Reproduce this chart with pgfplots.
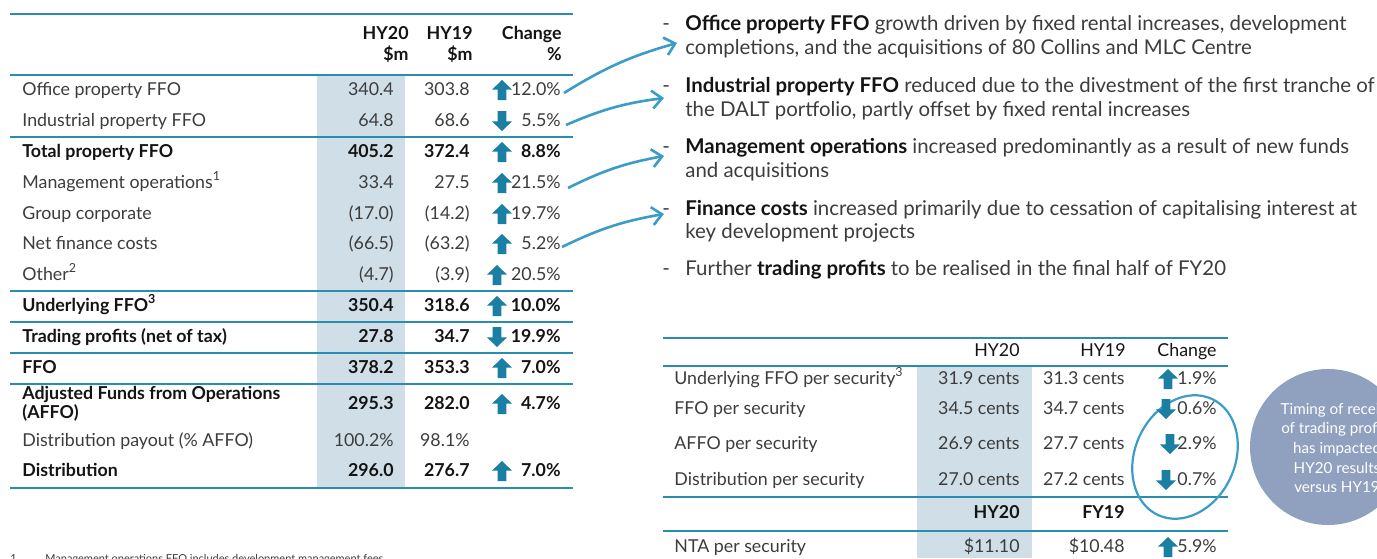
\documentclass[border=0pt]{standalone}
\usepackage{pgfplots}
\pgfplotsset{compat=1.18}
\usetikzlibrary{arrows.meta}
\usepackage{fontspec}
\setmainfont{Lato}
\definecolor{tline}{HTML}{2A8DB0}
\definecolor{shade}{HTML}{D0DEE7}
\definecolor{arr}{HTML}{1A7FA3}
\definecolor{txt}{HTML}{3C3C3C}
\definecolor{btxt}{HTML}{141414}
\definecolor{hand}{HTML}{3A9DC8}
\definecolor{circ}{HTML}{8FA1BF}
\pgfdeclareplotmark{uparr}{%
 \pgfpathmoveto{\pgfpoint{0pt}{5pt}}%
 \pgfpathlineto{\pgfpoint{5pt}{0.2pt}}%
 \pgfpathlineto{\pgfpoint{2.2pt}{0.2pt}}%
 \pgfpathlineto{\pgfpoint{2.2pt}{-5pt}}%
 \pgfpathlineto{\pgfpoint{-2.2pt}{-5pt}}%
 \pgfpathlineto{\pgfpoint{-2.2pt}{0.2pt}}%
 \pgfpathlineto{\pgfpoint{-5pt}{0.2pt}}%
 \pgfpathclose\pgfusepathqfill}
\pgfdeclareplotmark{dnarr}{%
 \pgfpathmoveto{\pgfpoint{0pt}{-5pt}}%
 \pgfpathlineto{\pgfpoint{5pt}{-0.2pt}}%
 \pgfpathlineto{\pgfpoint{2.2pt}{-0.2pt}}%
 \pgfpathlineto{\pgfpoint{2.2pt}{5pt}}%
 \pgfpathlineto{\pgfpoint{-2.2pt}{5pt}}%
 \pgfpathlineto{\pgfpoint{-2.2pt}{-0.2pt}}%
 \pgfpathlineto{\pgfpoint{-5pt}{-0.2pt}}%
 \pgfpathclose\pgfusepathqfill}
\newcommand{\tfs}{\fontsize{8.9}{10}\selectfont}
\newcommand{\bfs}{\fontsize{10.2}{12}\selectfont}
\begin{document}
\begin{tikzpicture}[
 L/.style={anchor=mid west, inner sep=0pt, font=\tfs, text=txt},
 R/.style={anchor=mid east, inner sep=0pt, font=\tfs, text=txt},
 LB/.style={anchor=mid west, inner sep=0pt, font=\tfs\bfseries, text=btxt},
 RB/.style={anchor=mid east, inner sep=0pt, font=\tfs\bfseries, text=btxt},
 B/.style={anchor=mid west, inner sep=0pt, font=\bfs, text=txt},
 tl/.style={draw=tline, line width=1.1pt},
 ha/.style={draw=hand, line width=1.3pt, -{Straight Barb[length=5pt, width=9pt, line width=1.3pt]}}]
\begin{axis}[scale only axis, width=688.5pt, height=279pt,
 xmin=0, xmax=1377, ymin=0, ymax=558, y dir=reverse, hide axis, clip=false]
% shaded columns
\addplot[fill=shade, draw=none] coordinates {(317,75) (405,75) (405,488) (317,488)} -- cycle;
\addplot[fill=shade, draw=none] coordinates {(917,366) (1032,366) (1032,558) (917,558)} -- cycle;
% circle
\fill[circ] (1328,447) circle [radius=39pt];
% left table rules
\draw[tl] (10,14) -- (573,14);
\draw[tl] (10,75) -- (573,75);
\draw[tl] (10,137) -- (573,137);
\draw[tl] (10,291) -- (573,291);
\draw[tl] (10,322) -- (573,322);
\draw[tl] (10,353) -- (573,353);
\draw[tl] (10,384) -- (573,384);
\draw[tl] (10,488) -- (573,488);
% right table rules
\draw[tl] (663,338) -- (1228,338);
\draw[tl] (663,366) -- (1228,366);
\draw[tl] (663,497) -- (1228,497);
\draw[tl] (663,531) -- (1228,531);
% headers left
\node[RB] at (409,34) {HY20};
\node[RB] at (409,55) {\$m};
\node[RB] at (473,34) {HY19};
\node[RB] at (473,55) {\$m};
\node[RB] at (562,34) {Change};
\node[RB] at (562,55) {\%};
% rows left
\node[L] at (22,90) {Office property FFO};
\node[R] at (394,90) {340.4};
\node[R] at (470,90) {303.8};
\node[R] at (561,90) {12.0\%};
\node[L] at (22,121) {Industrial property FFO};
\node[R] at (394,121) {64.8};
\node[R] at (470,121) {68.6};
\node[R] at (561,121) {5.5\%};
\node[LB] at (22,152) {Total property FFO};
\node[RB] at (394,152) {405.2};
\node[RB] at (470,152) {372.4};
\node[RB] at (561,152) {8.8\%};
\node[L] at (22,183) {Management operations\textsuperscript{1}};
\node[R] at (394,183) {33.4};
\node[R] at (470,183) {27.5};
\node[R] at (561,183) {21.5\%};
\node[L] at (22,214) {Group corporate};
\node[R] at (394,214) {(17.0)};
\node[R] at (470,214) {(14.2)};
\node[R] at (561,214) {19.7\%};
\node[L] at (22,244) {Net finance costs};
\node[R] at (394,244) {(66.5)};
\node[R] at (470,244) {(63.2)};
\node[R] at (561,244) {5.2\%};
\node[L] at (22,275) {Other\textsuperscript{2}};
\node[R] at (394,275) {(4.7)};
\node[R] at (470,275) {(3.9)};
\node[R] at (561,275) {20.5\%};
\node[LB] at (22,306) {Underlying FFO\textsuperscript{3}};
\node[RB] at (394,306) {350.4};
\node[RB] at (470,306) {318.6};
\node[RB] at (561,306) {10.0\%};
\node[LB] at (22,337) {Trading profits (net of tax)};
\node[RB] at (394,337) {27.8};
\node[RB] at (470,337) {34.7};
\node[RB] at (561,337) {19.9\%};
\node[LB] at (22,368) {FFO};
\node[RB] at (394,368) {378.2};
\node[RB] at (470,368) {353.3};
\node[RB] at (561,368) {7.0\%};
\node[LB] at (22,394) {Adjusted Funds from Operations};
\node[LB] at (22,413) {(AFFO)};
\node[RB] at (394,404) {295.3};
\node[RB] at (470,404) {282.0};
\node[RB] at (561,404) {4.7\%};
\node[L] at (22,441) {Distribution payout (\% AFFO)};
\node[R] at (394,441) {100.2\%};
\node[R] at (470,441) {98.1\%};
\node[LB] at (22,471) {Distribution};
\node[RB] at (394,471) {296.0};
\node[RB] at (470,471) {276.7};
\node[RB] at (561,471) {7.0\%};
% footnote
\node[anchor=mid west, inner sep=0pt, font=\fontsize{5.5}{6}\selectfont, text=txt] at (10,557) {1};
\node[anchor=mid west, inner sep=0pt, font=\fontsize{5.5}{6}\selectfont, text=txt] at (45,557) {Management operations FFO includes development management fees};
% arrow icons
\addplot[only marks, mark=uparr, color=arr] coordinates {(502,90) (502,152) (502,183) (502,214) (502,244) (497,275) (497,306) (502,368) (502,404) (502,471) (1168,379) (1168,547)};
\addplot[only marks, mark=dnarr, color=arr] coordinates {(502,121) (497,337) (1166,409) (1170,444) (1166,480)};
% hand-drawn arrows
\draw[ha] (564,93) to[bend left=8] (677,43);
\draw[ha] (566,125) to[bend left=8] (664,98);
\draw[ha] (568,188) to[bend left=8] (664,156);
\draw[ha] (562,247) to[bend left=8] (664,214);
% bullets
\node[B] at (662,25) {-};
\node[B] at (662,87) {-};
\node[B] at (662,148) {-};
\node[B] at (662,210) {-};
\node[B] at (662,270) {-};
\node[B] at (685,25) {\textbf{\color{btxt}Office property FFO} growth driven by fixed rental increases, development};
\node[B] at (685,49) {completions, and the acquisitions of 80 Collins and MLC Centre};
\node[B] at (685,87) {\textbf{\color{btxt}Industrial property FFO} reduced due to the divestment of the first tranche of};
\node[B] at (685,111) {the DALT portfolio, partly offset by fixed rental increases};
\node[B] at (685,148) {\textbf{\color{btxt}Management operations} increased predominantly as a result of new funds};
\node[B] at (685,172) {and acquisitions};
\node[B] at (685,210) {\textbf{\color{btxt}Finance costs} increased primarily due to cessation of capitalising interest at};
\node[B] at (685,233) {key development projects};
\node[B] at (685,270) {Further \textbf{\color{btxt}trading profits} to be realised in the final half of FY20};
% right table
\node[R, text=btxt] at (1020,351) {HY20};
\node[R, text=btxt] at (1126,351) {HY19};
\node[R, text=btxt] at (1217,351) {Change};
\node[L] at (674,379) {Underlying FFO per security\textsuperscript{3}};
\node[R] at (1020,379) {31.9 cents};
\node[R] at (1125,379) {31.3 cents};
\node[R] at (1217,379) {1.9\%};
\node[L] at (674,409) {FFO per security};
\node[R] at (1020,409) {34.5 cents};
\node[R] at (1125,409) {34.7 cents};
\node[R] at (1217,409) {0.6\%};
\node[L] at (674,444) {AFFO per security};
\node[R] at (1020,444) {26.9 cents};
\node[R] at (1125,444) {27.7 cents};
\node[R] at (1217,444) {2.9\%};
\node[L] at (674,480) {Distribution per security};
\node[R] at (1020,480) {27.0 cents};
\node[R] at (1125,480) {27.2 cents};
\node[R] at (1217,480) {0.7\%};
\node[RB] at (1020,513) {HY20};
\node[RB] at (1125,513) {FY19};
\node[L] at (674,547) {NTA per security};
\node[R] at (1020,547) {\$11.10};
\node[R] at (1125,547) {\$10.48};
\node[R] at (1217,547) {5.9\%};
% hand ellipse
\draw[hand, line width=1.1pt, rotate around={-25:(1185,457)}] (1185,457) ellipse [x radius=25pt, y radius=32pt];
% circle text
\node[align=center, text=white, font=\fontsize{7.6}{9.8}\selectfont, inner sep=0pt] at (1337,448) {Timing of receipt\\of trading profits\\has impacted\\HY20 results\\versus HY19};
\end{axis}
\pgfresetboundingbox
\path (current axis.south west) rectangle (current axis.north east);
\end{tikzpicture}
\end{document}
